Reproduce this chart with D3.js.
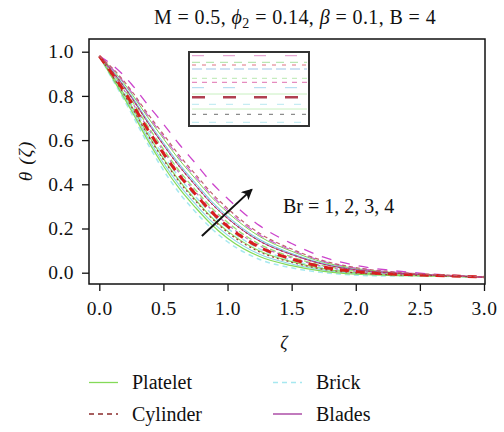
<!DOCTYPE html>
<html>
<head>
<meta charset="utf-8">
<script src="https://cdn.jsdelivr.net/npm/d3@7"></script>
<style>
body { margin: 0; background: #fff; }
text { font-family: "Liberation Serif", "Times New Roman", serif; fill: #111; }
</style>
</head>
<body>
<svg id="chart" width="504" height="432"></svg>
<script>
// zeta grid shared by every curve
var ZETA = [0, 0.125, 0.25, 0.375, 0.5, 0.625, 0.75, 0.875, 1, 1.25, 1.5, 1.75, 2, 2.25, 2.5, 2.75, 3];

// theta(zeta) for Br = 1, 2, 3, 4
var platelet = [
	[0.98, 0.859, 0.734, 0.602, 0.483, 0.38, 0.295, 0.218, 0.156, 0.073, 0.032, 0.006, -0.007, -0.012, -0.014, -0.017, -0.02],
	[0.98, 0.871, 0.755, 0.63, 0.516, 0.415, 0.33, 0.251, 0.188, 0.098, 0.05, 0.017, 0, -0.008, -0.012, -0.016, -0.02],
	[0.98, 0.887, 0.782, 0.666, 0.559, 0.46, 0.375, 0.294, 0.228, 0.129, 0.072, 0.031, 0.009, -0.003, -0.009, -0.014, -0.02],
	[0.98, 0.905, 0.812, 0.706, 0.607, 0.51, 0.425, 0.342, 0.273, 0.164, 0.097, 0.047, 0.019, 0.003, -0.006, -0.013, -0.02]
];
var cylinder = [
	[0.98, 0.87, 0.752, 0.626, 0.512, 0.41, 0.325, 0.247, 0.183, 0.094, 0.047, 0.015, -0.001, -0.009, -0.012, -0.016, -0.02],
	[0.98, 0.88, 0.77, 0.65, 0.54, 0.44, 0.355, 0.275, 0.21, 0.115, 0.062, 0.025, 0.005, -0.005, -0.01, -0.015, -0.02],
	[0.98, 0.894, 0.794, 0.682, 0.578, 0.48, 0.395, 0.313, 0.246, 0.143, 0.082, 0.038, 0.013, 0, -0.008, -0.014, -0.02],
	[0.98, 0.912, 0.824, 0.722, 0.626, 0.53, 0.445, 0.361, 0.291, 0.178, 0.107, 0.054, 0.023, 0.006, -0.005, -0.012, -0.02]
];
var brick = [
	[0.98, 0.852, 0.722, 0.586, 0.464, 0.36, 0.275, 0.2, 0.14, 0.06, 0.022, 0, -0.011, -0.015, -0.015, -0.017, -0.02],
	[0.98, 0.864, 0.743, 0.614, 0.497, 0.395, 0.31, 0.232, 0.17, 0.083, 0.039, 0.011, -0.004, -0.01, -0.013, -0.016, -0.02],
	[0.98, 0.877, 0.764, 0.642, 0.531, 0.43, 0.345, 0.266, 0.201, 0.108, 0.057, 0.022, 0.003, -0.006, -0.011, -0.015, -0.02],
	[0.98, 0.898, 0.8, 0.69, 0.588, 0.49, 0.405, 0.323, 0.255, 0.15, 0.087, 0.041, 0.015, 0.001, -0.007, -0.014, -0.02]
];
var blades = [
	[0.98, 0.884, 0.776, 0.658, 0.55, 0.45, 0.365, 0.285, 0.219, 0.122, 0.067, 0.028, 0.007, -0.004, -0.009, -0.015, -0.02],
	[0.98, 0.894, 0.794, 0.682, 0.578, 0.48, 0.395, 0.313, 0.246, 0.143, 0.082, 0.038, 0.013, 0, -0.008, -0.014, -0.02],
	[0.98, 0.908, 0.818, 0.714, 0.616, 0.52, 0.435, 0.351, 0.282, 0.171, 0.102, 0.051, 0.021, 0.005, -0.005, -0.013, -0.02],
	[0.98, 0.929, 0.854, 0.762, 0.673, 0.58, 0.495, 0.408, 0.336, 0.213, 0.132, 0.07, 0.033, 0.012, -0.002, -0.011, -0.02]
];

var X_TICKS = [0, 0.5, 1, 1.5, 2, 2.5, 3];
var Y_TICKS = [0, 0.2, 0.4, 0.6, 0.8, 1.0];
var LEGEND = ["Platelet", "Brick", "Cylinder", "Blades"];

// drawing styles, one per Br value
var STYLES = {
	brick:    [ { c: "#a6e8f0", w: 1.5, d: "5,4" }, { c: "#8ad8e6", w: 1.1, d: null }, { c: "#9ee2ee", w: 1.5, d: "5,4" }, { c: "#7ccfe0", w: 1.1, d: null } ],
	platelet: [ { c: "#84da58", w: 1.2, d: null }, { c: "#8cdc60", w: 1.2, d: null }, { c: "#96e070", w: 1.3, d: "6,3" }, { c: "#7cd450", w: 1.0, d: null } ],
	cylinder: [ { c: "#a0343c", w: 1.2, d: "2,3" }, { c: "#d81e1e", w: 3, d: "9,7" }, { c: "#b04050", w: 1.2, d: "2,3" }, { c: "#c06070", w: 1.2, d: "4,3" } ],
	blades:   [ { c: "#c070c0", w: 1.2, d: "3,3" }, { c: "#a83090", w: 1.0, d: null }, { c: "#d060d0", w: 1.2, d: "8,6" }, { c: "#cc44cc", w: 1.3, d: "10,9" } ]
};
var LEGEND_STYLE = {
	Platelet: { c: "#84da58", d: null },
	Brick:    { c: "#a6e8f0", d: "5,4" },
	Cylinder: { c: "#8b2a2a", d: "5,4" },
	Blades:   { c: "#a0329a", d: null }
};
// rows of the broken inset legend
var INSET = [
	{ y: 55.7, c: "#e090c8", d: "12,19", w: 1 }, { y: 62.3, c: "#a8e0a0", d: "8,6", w: 1 }, { y: 65, c: "#e07080", d: "4,6", w: 1 },
	{ y: 69, c: "#c0d8f0", d: "10,4", w: 1.5 }, { y: 78.3, c: "#b8e8b0", d: "5,5", w: 1 }, { y: 82.3, c: "#e070b0", d: "5,5", w: 1 },
	{ y: 87.7, c: "#a8d8f0", d: "12,19", w: 1 }, { y: 94, c: "#c8f0c0", d: null, w: 1 }, { y: 97.3, c: "#b04050", d: "13,18", w: 2.5 },
	{ y: 104.3, c: "#b8e8f0", d: "7,10", w: 1 }, { y: 109, c: "#c8f0c0", d: null, w: 1 }, { y: 114.3, c: "#707070", d: "4,7", w: 1 },
	{ y: 122.3, c: "#b8e8f0", d: "7,10", w: 1 }
];

var svg = d3.select("#chart");
var x = d3.scaleLinear().domain([0, 3]).range([99.3, 484]);
var y = d3.scaleLinear().domain([0, 1]).range([272.7, 51.7]);
var L = 89, T = 39, R = 485, B = 284;

svg.append("clipPath").attr("id", "clip").append("rect")
	.attr("x", L).attr("y", T).attr("width", R - L).attr("height", B - T);

var line = d3.line().x(d => x(d[0])).y(d => y(d[1])).curve(d3.curveMonotoneX);
var plot = svg.append("g").attr("clip-path", "url(#clip)");

function drawSet( set, styles ) {
	set.forEach( (vals, i) => {
		var s = styles[i];
		plot.append("path")
			.attr("d", line( ZETA.map( (z, j) => [z, vals[j]] ) ))
			.attr("fill", "none").attr("stroke", s.c).attr("stroke-width", s.w)
			.attr("stroke-dasharray", s.d);
	});
}
drawSet( brick, STYLES.brick );
drawSet( platelet, STYLES.platelet );
drawSet( blades, STYLES.blades );
drawSet( cylinder, STYLES.cylinder );

// frame
svg.append("rect").attr("x", L).attr("y", T).attr("width", R - L).attr("height", B - T)
	.attr("fill", "none").attr("stroke", "#111").attr("stroke-width", 1.5);

var xAxis = svg.append("g").attr("transform", "translate(0," + B + ")")
	.call( d3.axisBottom(x).tickValues(X_TICKS).tickFormat(d3.format(".1f")).tickSize(7).tickPadding(10) );
var yAxis = svg.append("g").attr("transform", "translate(" + L + ",0)")
	.call( d3.axisLeft(y).tickValues(Y_TICKS).tickFormat(d3.format(".1f")).tickSize(7).tickPadding(8) );
[xAxis, yAxis].forEach( a => {
	a.select(".domain").remove();
	a.selectAll("line").attr("stroke", "#111").attr("stroke-width", 1.3);
	a.selectAll("text").attr("font-size", 19.5).attr("fill", "#111").style("letter-spacing", "0.5px");
});

// inset box
var inset = svg.append("g");
inset.selectAll("line").data(INSET).enter().append("line")
	.attr("x1", 192).attr("x2", 307).attr("y1", d => d.y).attr("y2", d => d.y)
	.attr("stroke", d => d.c).attr("stroke-width", d => d.w).attr("stroke-dasharray", d => d.d);
inset.append("rect").attr("x", 189).attr("y", 52).attr("width", 120).attr("height", 74)
	.attr("fill", "none").attr("stroke", "#333").attr("stroke-width", 2);

// arrow
svg.append("defs").append("marker").attr("id", "head").attr("viewBox", "0 0 10 10")
	.attr("refX", 9).attr("refY", 5).attr("markerWidth", 11).attr("markerHeight", 11)
	.attr("markerUnits", "userSpaceOnUse").attr("orient", "auto")
	.append("path").attr("d", "M0,0 L10,5 L0,10 L2.5,5 Z").attr("fill", "#111");
svg.append("line")
	.attr("x1", x(0.8)).attr("y1", y(0.166)).attr("x2", x(1.19)).attr("y2", y(0.377))
	.attr("stroke", "#111").attr("stroke-width", 2).attr("marker-end", "url(#head)");
svg.append("text").attr("x", 283).attr("y", 213).attr("font-size", 20).text("Br = 1, 2, 3, 4");

// title
var title = svg.append("text").attr("x", 295).attr("y", 24).attr("text-anchor", "middle")
	.attr("font-size", 20).style("letter-spacing", "0.4px");
title.append("tspan").text("M = 0.5, ");
title.append("tspan").attr("font-style", "italic").text("ϕ");
title.append("tspan").attr("font-size", 14).attr("dy", 4).text("2");
title.append("tspan").attr("dy", -4).text(" = 0.14, ");
title.append("tspan").attr("font-style", "italic").text("β");
title.append("tspan").text(" = 0.1, B = 4");

// axis labels
svg.append("text").attr("transform", "translate(32,161) rotate(-90)").attr("text-anchor", "middle")
	.attr("font-size", 19.5).attr("font-style", "italic").style("letter-spacing", "1px").text("θ (ζ)");
svg.append("text").attr("x", 284).attr("y", 349).attr("text-anchor", "middle")
	.attr("font-size", 18).attr("font-style", "italic").text("ζ");

// legend
var lg = svg.append("g").selectAll("g").data(LEGEND).enter().append("g")
	.attr("transform", (d, i) => "translate(" + (i % 2 ? 273 : 89) + "," + (i < 2 ? 382.5 : 414) + ")");
lg.append("line").attr("x1", 0).attr("x2", 29).attr("y1", 0).attr("y2", 0)
	.attr("stroke", d => LEGEND_STYLE[d].c).attr("stroke-width", 1.3)
	.attr("stroke-dasharray", d => LEGEND_STYLE[d].d);
lg.append("text").attr("x", 43).attr("y", 6.8).attr("font-size", 20).text(d => d);
</script>
</body>
</html>
